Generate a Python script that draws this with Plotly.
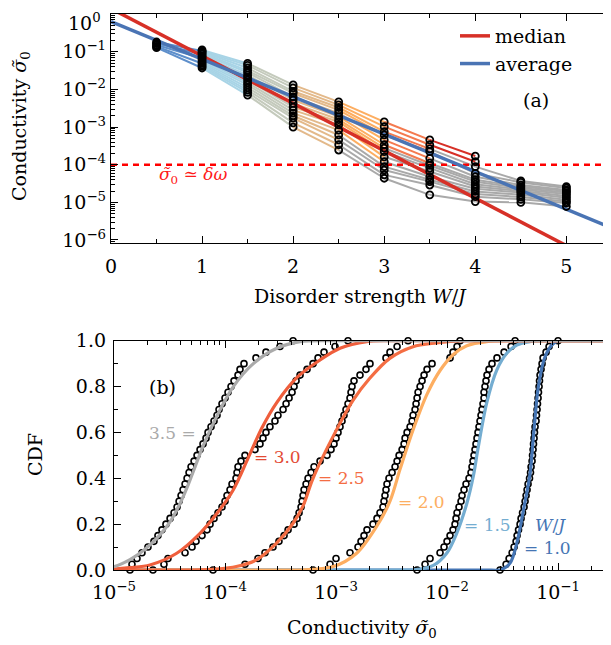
import plotly.graph_objects as go

FONT = "DejaVu Serif"
VIEW_W, VIEW_H = 611, 645
OFF = 8                      # page body margin of the browser
FW, FH = VIEW_W - OFF, VIEW_H - OFF

# ---------------- Panel (a) data: log10 conductivity per disorder W, per sample ----------------
W_levels = [0.5, 1.0, 1.5, 2.0, 2.5, 3.0, 3.5, 4.0, 4.5, 5.0]
logsig_W05 = [None, -0.74, None, None, -0.78, None, None, -0.82, None, None, -0.86, None, None, -0.89]
logsig_W10 = [-0.95, -0.98, -1.00, -1.03, -1.06, -1.10, -1.13, -1.17, -1.22, -1.27, -1.31, -1.35, -1.39, -1.43]
logsig_W15 = [-1.31, -1.36, -1.43, -1.50, -1.55, -1.62, -1.68, -1.75, -1.82, -1.88, -1.95, -2.02, -2.08, -2.15]
logsig_W20 = [-1.88, -1.96, -2.05, -2.10, -2.20, -2.28, -2.37, -2.47, -2.55, -2.63, -2.70, -2.76, -2.89, -3.00]
logsig_W25 = [-2.33, -2.41, -2.48, -2.55, -2.63, -2.72, -2.80, -2.86, -2.94, -3.08, -3.21, -3.34, -3.47, -3.61]
logsig_W30 = [-2.86, -2.99, -3.12, -3.21, -3.34, -3.47, -3.56, -3.65, -3.79, -3.92, -4.05, -4.14, -4.27, -4.36]
logsig_W35 = [-3.34, -3.47, -3.58, -3.65, -3.83, -3.96, -4.02, -4.09, -4.18, -4.32, -4.40, -4.45, -4.54, -4.80]
logsig_W40 = [-3.77, -3.92, -4.05, -4.23, -4.32, -4.40, -4.45, -4.52, -4.58, -4.64, -4.71, -4.78, -4.85, -4.98]
logsig_W45 = [None, None, -4.43, -4.47, -4.54, -4.58, -4.62, -4.66, -4.70, -4.74, -4.80, -4.86, -4.92, -5.00]
logsig_W50 = [None, None, -4.58, -4.62, -4.67, -4.70, -4.74, -4.78, -4.83, -4.88, -4.93, -4.98, -5.02, -5.11]
seg_colors = ["#5e8fcb", "#a8d4e6", "#c4cabc", "#e3b98a", "#fdae61", "#f47a4f", "#d73027", "#a9a9a9", "#a9a9a9"]
below_color = "#a9a9a9"

median_W = [0.0, 5.5]
median_logsig = [0.148, -6.78]
average_W = [0.0, 5.5]
average_logsig = [-0.20, -5.68]
delta_omega = 1e-4

# ---------------- Panel (b) data ----------------
cdf_levels = [0.0, 0.025, 0.05, 0.075, 0.1, 0.125, 0.15, 0.175, 0.2, 0.225, 0.25, 0.275, 0.3, 0.325,
              0.35, 0.375, 0.4, 0.425, 0.45, 0.475, 0.5, 0.525, 0.55, 0.575, 0.6, 0.625, 0.65, 0.675,
              0.7, 0.725, 0.75, 0.775, 0.8, 0.825, 0.85, 0.875, 0.9, 0.925, 0.95, 0.975, 1.0]
samp_35 = [-4.856, -4.838, -4.793, -4.748, -4.694, -4.640, -4.604, -4.568, -4.532, -4.495, -4.459, -4.432,
           -4.414, -4.396, -4.378, -4.360, -4.342, -4.324, -4.306, -4.279, -4.252, -4.225, -4.198, -4.171,
           -4.153, -4.126, -4.099, -4.072, -4.054, -4.027, -4.000, -3.973, -3.946, -3.919, -3.883, -3.865,
           -3.829, -3.721, -3.631, -3.505, -3.387]
samp_30 = [-4.649, -4.550, -4.514, -4.360, -4.297, -4.261, -4.207, -4.162, -4.135, -4.099, -4.063, -4.027,
           -4.000, -3.982, -3.955, -3.937, -3.901, -3.892, -3.883, -3.856, -3.820, -3.730, -3.685, -3.658,
           -3.631, -3.595, -3.550, -3.523, -3.477, -3.450, -3.423, -3.396, -3.378, -3.360, -3.324, -3.261,
           -3.207, -3.162, -3.108, -3.009, -2.892]
samp_25 = [-4.108, -3.820, -3.703, -3.640, -3.568, -3.514, -3.468, -3.432, -3.378, -3.351, -3.333, -3.315,
           -3.306, -3.297, -3.288, -3.270, -3.252, -3.225, -3.198, -3.144, -3.081, -3.045, -3.018, -3.000,
           -2.982, -2.964, -2.946, -2.928, -2.910, -2.892, -2.874, -2.865, -2.856, -2.838, -2.784, -2.730,
           -2.694, -2.550, -2.514, -2.450, -2.351]
samp_20 = [-3.207, -3.054, -3.000, -2.874, -2.802, -2.775, -2.748, -2.721, -2.667, -2.631, -2.604, -2.577,
           -2.568, -2.559, -2.550, -2.541, -2.523, -2.495, -2.468, -2.450, -2.432, -2.405, -2.387, -2.378,
           -2.360, -2.333, -2.315, -2.306, -2.288, -2.279, -2.270, -2.261, -2.243, -2.225, -2.207, -2.180,
           -2.135, -1.973, -1.946, -1.910, -1.883]
samp_15 = [-2.270, -2.198, -2.153, -2.063, -2.027, -2.000, -1.973, -1.946, -1.928, -1.919, -1.910, -1.892,
           -1.874, -1.865, -1.847, -1.829, -1.802, -1.784, -1.775, -1.766, -1.757, -1.748, -1.739, -1.730,
           -1.721, -1.712, -1.703, -1.694, -1.685, -1.676, -1.667, -1.667, -1.658, -1.649, -1.640, -1.622,
           -1.595, -1.550, -1.486, -1.423, -1.387]
samp_10 = [-1.523, -1.468, -1.441, -1.414, -1.396, -1.378, -1.369, -1.356, -1.342, -1.333, -1.320, -1.306,
           -1.297, -1.288, -1.279, -1.270, -1.257, -1.248, -1.243, -1.234, -1.230, -1.225, -1.221, -1.216,
           -1.212, -1.207, -1.198, -1.194, -1.189, -1.185, -1.180, -1.176, -1.171, -1.167, -1.162, -1.153,
           -1.144, -1.135, -1.108, -1.081, -1.000]

fit_x_35 = [-5.6, -5.3, -5.0, -4.856, -4.721, -4.586, -4.495, -4.405, -4.333, -4.270, -4.198, -4.075, -3.925,
            -3.745, -3.534, -3.324, -3.054, -2.95, 0.0]
fit_y_35 = [0.001, 0.005, 0.015, 0.045, 0.09, 0.153, 0.21, 0.29, 0.37, 0.45, 0.54, 0.67, 0.80, 0.90, 0.967,
            0.996, 1.0, 1.0, 1.0]
fit_x_30 = [-5.6, -5.2, -5.0, -4.856, -4.676, -4.435, -4.225, -4.075, -3.925, -3.790, -3.667, -3.534, -3.351,
            -3.144, -2.964, -2.723, -2.543, -2.45, 0.0]
fit_y_30 = [0.0, 0.002, 0.004, 0.01, 0.022, 0.073, 0.16, 0.245, 0.35, 0.49, 0.62, 0.73, 0.84, 0.916, 0.967,
            0.996, 1.0, 1.0, 1.0]
fit_x_25 = [-5.6, -4.4, -4.288, -4.078, -3.898, -3.718, -3.538, -3.387, -3.297, -3.207, -2.997, -2.847, -2.696,
            -2.516, -2.306, -2.096, -1.856, -1.75, 0.0]
fit_y_25 = [0.0, 0.0, 0.0, 0.004, 0.015, 0.044, 0.116, 0.204, 0.28, 0.40, 0.61, 0.74, 0.836, 0.923, 0.974,
            0.99, 1.0, 1.0, 1.0]
fit_x_20 = [-5.6, -3.45, -3.324, -3.024, -2.814, -2.634, -2.514, -2.423, -2.303, -2.182, -2.063, -1.943,
            -1.822, -1.642, -1.432, -1.33, 0.0]
fit_y_20 = [0.0, 0.0, 0.0, 0.015, 0.073, 0.19, 0.30, 0.44, 0.615, 0.765, 0.87, 0.94, 0.978, 0.996, 1.0, 1.0, 1.0]
fit_x_15 = [-5.6, -2.4, -2.303, -2.123, -2.003, -1.913, -1.822, -1.763, -1.721, -1.642, -1.552, -1.462,
            -1.372, -1.252, -1.117, -1.02, 0.0]
fit_y_15 = [0.0, 0.0, 0.0, 0.02, 0.073, 0.16, 0.29, 0.41, 0.53, 0.73, 0.872, 0.945, 0.981, 0.996, 1.0, 1.0, 1.0]
fit_x_10 = [-5.6, -1.6, -1.523, -1.432, -1.372, -1.312, -1.252, -1.222, -1.177, -1.117, -1.042, -0.982, -0.93, 0.0]
fit_y_10 = [0.0, 0.0, 0.0, 0.03, 0.116, 0.26, 0.42, 0.58, 0.80, 0.93, 0.988, 1.0, 1.0, 1.0]

curve_colors = {"1.0": "#4575b4", "1.5": "#74add1", "2.0": "#fdae61",
                "2.5": "#f46d43", "3.0": "#ef5e3c", "3.5": "#aaaaaa"}


def px_x(px):
    return (px - OFF) / FW


def px_y(py):
    return 1 - (py - OFF) / FH


# ---------------- Figure ----------------
fig = go.Figure()

rows = [logsig_W05, logsig_W10, logsig_W15, logsig_W20, logsig_W25,
        logsig_W30, logsig_W35, logsig_W40, logsig_W45, logsig_W50]
thr_log = -4.0
groups = {}
for k in range(len(W_levels) - 1):
    for i in range(len(rows[k])):
        a, b = rows[k][i], rows[k + 1][i]
        if a is None or b is None:
            continue
        col = seg_colors[k] if b >= thr_log else below_color
        xs, ys = groups.setdefault(col, ([], []))
        xs += [W_levels[k], W_levels[k + 1], None]
        ys += [10 ** a, 10 ** b, None]
order = [below_color] + [c for c in groups if c != below_color]
for col in order:
    if col not in groups:
        continue
    xs, ys = groups[col]
    fig.add_trace(go.Scatter(x=xs, y=ys, mode="lines", line=dict(color=col, width=2),
                             showlegend=False, hoverinfo="skip", xaxis="x", yaxis="y"))

fig.add_trace(go.Scatter(x=[0, 5.5], y=[delta_omega, delta_omega], mode="lines",
                         line=dict(color="#ff0000", width=2.5, dash="6px,5px"),
                         showlegend=False, xaxis="x", yaxis="y"))
fig.add_trace(go.Scatter(x=median_W, y=[10 ** v for v in median_logsig], mode="lines", name="median",
                         line=dict(color="#d73027", width=3.5), xaxis="x", yaxis="y"))
fig.add_trace(go.Scatter(x=average_W, y=[10 ** v for v in average_logsig], mode="lines", name="average",
                         line=dict(color="#4a74b4", width=3.5), xaxis="x", yaxis="y"))

cx, cy = [], []
for k, W in enumerate(W_levels):
    for v in rows[k]:
        if v is not None:
            cx.append(W)
            cy.append(10 ** v)
fig.add_trace(go.Scatter(x=cx, y=cy, mode="markers", showlegend=False, cliponaxis=False,
                         marker=dict(symbol="circle-open", size=7, color="black", line=dict(width=1.8)),
                         xaxis="x", yaxis="y"))

for samp in [samp_35, samp_30, samp_25, samp_20, samp_15, samp_10]:
    fig.add_trace(go.Scatter(x=[10 ** v for v in samp], y=cdf_levels, mode="markers", showlegend=False,
                             cliponaxis=False,
                             marker=dict(symbol="circle-open", size=6, color="black", line=dict(width=1.6)),
                             xaxis="x2", yaxis="y2"))
for key, fx, fy in [("1.0", fit_x_10, fit_y_10), ("1.5", fit_x_15, fit_y_15), ("2.0", fit_x_20, fit_y_20),
                    ("2.5", fit_x_25, fit_y_25), ("3.0", fit_x_30, fit_y_30), ("3.5", fit_x_35, fit_y_35)]:
    fig.add_trace(go.Scatter(x=[10 ** v for v in fx], y=fy, mode="lines", showlegend=False,
                             line=dict(color=curve_colors[key], width=3.2, shape="spline", smoothing=0.9),
                             xaxis="x2", yaxis="y2"))

tickfont = dict(family=FONT, size=19, color="black")
common = dict(showline=True, linecolor="black", linewidth=1.3, mirror="allticks", ticks="inside",
              tickcolor="black", ticklen=7, tickwidth=1.2, showgrid=False, zeroline=False, tickfont=tickfont,
              automargin=False)

dec_a = [-6, -5, -4, -3, -2, -1, 0]
dec_b = [-5, -4, -3, -2, -1]
ticktext_a = ["10<sup>%s</sup>" % (str(e).replace("-", "−")) for e in dec_a]
top_label = ticktext_a[-1]
ticktext_a[-1] = ""          # 10^0 is written as an annotation so that it stays inside the page
minor_log = [m * 10.0 ** e for e in range(-7, 1) for m in range(2, 10)]

fig.update_layout(
    width=FW, height=FH, margin=dict(l=0, r=0, t=0, b=0, autoexpand=False),
    paper_bgcolor="white", plot_bgcolor="white",
    font=dict(family=FONT, size=19, color="black"),
    xaxis=dict(domain=[px_x(111), 1.0], anchor="y", range=[0, 5.49], tickmode="array",
               tickvals=[0, 1, 2, 3, 4, 5], ticklabelstandoff=6,
               minor=dict(ticks="inside", ticklen=4, tickcolor="black", dtick=0.5, tick0=0), **common),
    yaxis=dict(domain=[px_y(243), px_y(14)], anchor="x", type="log", range=[-6.08, 0.004],
               tickmode="array", tickvals=[10.0 ** e for e in dec_a],
               ticktext=ticktext_a, ticklabelstandoff=0,
               minor=dict(ticks="inside", ticklen=4, tickcolor="black", tickmode="array", tickvals=minor_log),
               **common),
    xaxis2=dict(domain=[px_x(114), 1.0], anchor="y2", type="log", range=[-5, -0.523], tickmode="array",
                tickvals=[10.0 ** e for e in dec_b],
                ticktext=["10<sup>%s</sup>" % (str(e).replace("-", "−")) for e in dec_b], ticklabelstandoff=5,
                minor=dict(ticks="inside", ticklen=4, tickcolor="black", tickmode="array", tickvals=minor_log),
                **common),
    yaxis2=dict(domain=[px_y(570), px_y(340.7)], anchor="x2", range=[0, 1], tickmode="array",
                tickvals=[0, 0.2, 0.4, 0.6, 0.8, 1.0], ticktext=["0.0", "0.2", "0.4", "0.6", "0.8", "1.0"],
                ticklabelstandoff=3,
                minor=dict(ticks="inside", ticklen=4, tickcolor="black", dtick=0.1, tick0=0), **common),
    legend=dict(x=px_x(455), y=px_y(17), xanchor="left", yanchor="top", bgcolor="rgba(0,0,0,0)",
                font=dict(family=FONT, size=19), tracegroupgap=0, itemwidth=30),
)


def ann(text, px, py, color="black", size=19, xanchor="center", angle=0, yanchor="middle"):
    fig.add_annotation(text=text, x=px_x(px), y=px_y(py), xref="paper", yref="paper",
                       showarrow=False, xanchor=xanchor, yanchor=yanchor, textangle=angle,
                       font=dict(family=FONT, size=size, color=color))


ann(top_label, 103, 8, xanchor="right", yanchor="top")
ann("(a)", 536, 100)
ann("<i>σ̃</i><sub>0</sub> ≃ <i>δω</i>", 193, 176, color="#ff1a1a", size=17)
ann("Disorder strength <i>W</i>/<i>J</i>", 360, 296)
ann("Conductivity <i>σ̃</i><sub>0</sub>", 20, 126, angle=-90)
ann("(b)", 162, 387)
ann("CDF", 35, 455, angle=-90)
ann("Conductivity <i>σ̃</i><sub>0</sub>", 362, 628)
ann("3.5 =", 198, 433, color="#aaaaaa", size=17, xanchor="right")
ann("= 3.0", 252, 457, color="#e34a33", size=17, xanchor="left")
ann("= 2.5", 316, 478, color="#f46d43", size=17, xanchor="left")
ann("= 2.0", 396, 502, color="#fdae61", size=17, xanchor="left")
ann("= 1.5", 462, 525, color="#74add1", size=17, xanchor="left")
ann("<i>W</i>/<i>J</i>", 533, 525, color="#4575b4", size=17, xanchor="left")
ann("= 1.0", 522, 548, color="#4575b4", size=17, xanchor="left")

fig.write_html("out.html")
